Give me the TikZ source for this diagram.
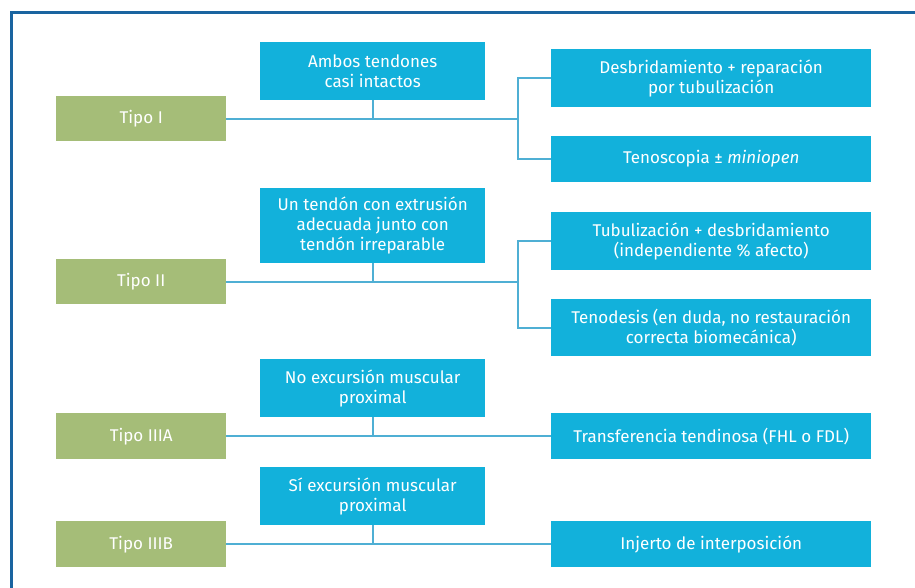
\documentclass[tikz,border=0pt]{standalone}
\usepackage{fontspec}
\setmainfont{Fira Sans}
\definecolor{boxblue}{HTML}{12B1DB}
\definecolor{boxgreen}{HTML}{A5BD78}
\definecolor{linkblue}{HTML}{4FAFD4}
\definecolor{frameblue}{HTML}{1A64A0}
\begin{document}
\begin{tikzpicture}[x=1bp,y=-1bp,
  base/.style={draw=none,inner sep=0pt,align=center,text=white,font=\fontsize{17bp}{20bp}\selectfont,anchor=north west},
  gbox/.style={base,fill=boxgreen},
  bbox/.style={base,fill=boxblue},
  link/.style={draw=linkblue,line width=2.2bp}]
\useasboundingbox (0,0) rectangle (915,588);
\fill[white] (0,0) rectangle (915,588);
\draw[frameblue,line width=3bp] (11.5,600) -- (11.5,12.5) -- (930,12.5);
% Tipo I
\node[gbox,minimum width=170bp,minimum height=45bp] (t1) at (56,96) {Tipo I};
\node[bbox,minimum width=225bp,minimum height=58bp] (m1) at (260,42) {Ambos tendones\\casi intactos};
\node[bbox,minimum width=320bp,minimum height=58bp] (r1a) at (551,49) {Desbridamiento + reparación\\por tubulización};
\node[bbox,minimum width=320bp,minimum height=46bp] (r1b) at (551,136) {Tenoscopia ± \textit{miniopen}};
\coordinate (j1) at (518,0);
\draw[link] (t1.east) -- (t1.east -| j1);
\draw[link] (m1.south) -- (m1.south |- t1.east);
\draw[link] (r1a.west) -- (r1a.west -| j1) -- (r1b.west -| j1) -- (r1b.west);
% Tipo II
\node[gbox,minimum width=170bp,minimum height=45bp] (t2) at (56,259) {Tipo II};
\node[bbox,minimum width=225bp,minimum height=75bp] (m2) at (260,188) {Un tendón con extrusión\\adecuada junto con\\tendón irreparable};
\node[bbox,minimum width=320bp,minimum height=58bp] (r2a) at (551,212) {Tubulización + desbridamiento\\(independiente \% afecto)};
\node[bbox,minimum width=320bp,minimum height=57bp] (r2b) at (551,299) {Tenodesis (en duda, no restauración\\correcta biomecánica)};
\draw[link] (t2.east) -- (t2.east -| j1);
\draw[link] (m2.south) -- (m2.south |- t2.east);
\draw[link] (r2a.west) -- (r2a.west -| j1) -- (r2b.west -| j1) -- (r2b.west);
% Tipo IIIA
\node[gbox,minimum width=170bp,minimum height=46bp] (t3) at (56,413) {Tipo IIIA};
\node[bbox,minimum width=225bp,minimum height=58bp] (m3) at (260,359) {No excursión muscular\\proximal};
\node[bbox,minimum width=320bp,minimum height=46bp] (r3) at (551,413) {Transferencia tendinosa (FHL o FDL)};
\draw[link] (t3.east) -- (r3.west);
\draw[link] (m3.south) -- (m3.south |- t3.east);
% Tipo IIIB
\node[gbox,minimum width=170bp,minimum height=46bp] (t4) at (56,521) {Tipo IIIB};
\node[bbox,minimum width=225bp,minimum height=58bp] (m4) at (260,467) {Sí excursión muscular\\proximal};
\node[bbox,minimum width=320bp,minimum height=46bp] (r4) at (551,521) {Injerto de interposición};
\draw[link] (t4.east) -- (r4.west);
\draw[link] (m4.south) -- (m4.south |- t4.east);
\end{tikzpicture}
\end{document}
